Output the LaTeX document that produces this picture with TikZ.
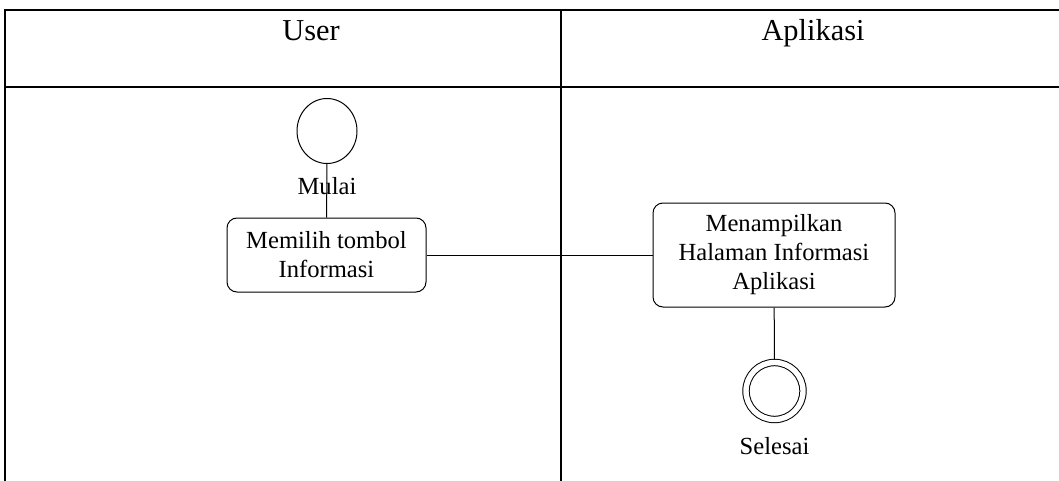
\documentclass[tikz,border=0pt]{standalone}
\usepackage{fontspec}
\setmainfont{Liberation Serif}
\usetikzlibrary{shapes.geometric, positioning}

\begin{document}
\begin{tikzpicture}[
    x=0.5pt, y=-0.5pt,
    lane/.style={line width=1pt},
    startnode/.style={ellipse, draw, line width=0.5pt, minimum width=30pt, minimum height=32.5pt},
    endnode/.style={circle, draw, line width=0.5pt, double, double distance=2.7pt, minimum size=28.5pt, outer sep=1.6pt},
    activity/.style={rectangle, rounded corners=5pt, draw, line width=0.5pt, align=center, font=\fontsize{12.3}{14.5}\selectfont},
    header/.style={font=\fontsize{15.2}{18}\selectfont, anchor=base},
    caption/.style={font=\fontsize{12.3}{14.5}\selectfont, inner sep=1pt},
    flow/.style={line width=0.5pt}
]
\useasboundingbox (0,0) rectangle (1059,481);

% Swimlanes
\draw[lane] (5,481) -- (5,10) -- (1059,10);
\draw[lane] (5,87) -- (1059,87);
\draw[lane] (561,10) -- (561,481);
\node[header] (user) at (311,41) {User};
\node[header] (aplikasi) at (813,41) {Aplikasi};

% Activities
\node[startnode] (mulai) at (327,131) {};
\node[caption] (mulaitext) at (327,186) {Mulai};
\node[activity, minimum width=99.5pt, minimum height=37pt] (memilih) at (326.5,255) {Memilih tombol\\Informasi};
\node[activity, minimum width=121pt, minimum height=52pt] (tampil) at (774,255) {Menampilkan\\Halaman Informasi\\Aplikasi};
\node[endnode] (selesai) at (774.5,391) {};
\node[caption] (selesaitext) at (774.5,446) {Selesai};

% Flows
\draw[flow] (mulai) -- (memilih);
\draw[flow] (memilih) -- (tampil);
\draw[flow] (tampil) -- (selesai);

\end{tikzpicture}
\end{document}
